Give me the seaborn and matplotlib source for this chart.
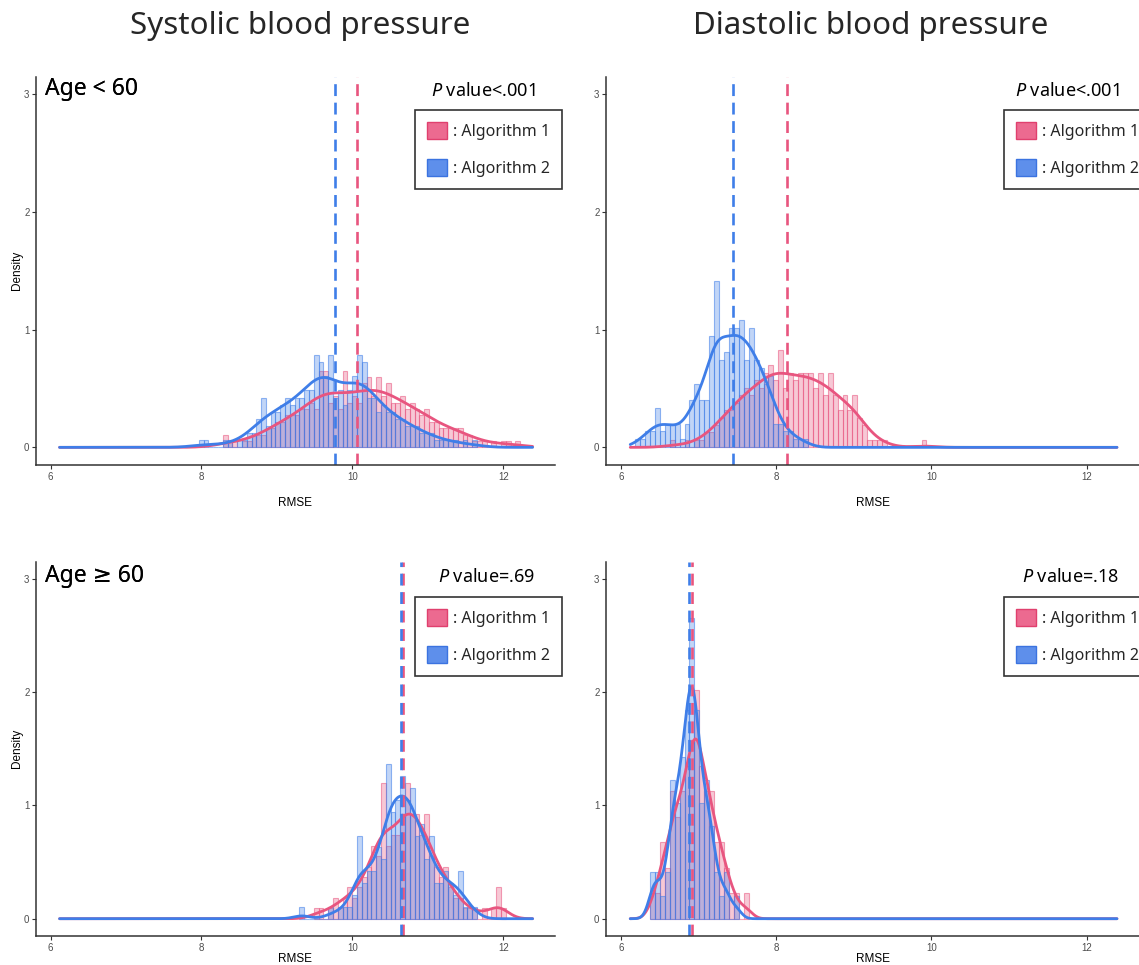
import numpy as np
import matplotlib
matplotlib.use('Agg')
import matplotlib.pyplot as plt
import seaborn as sns
from matplotlib.colors import to_rgba
from matplotlib.patches import Patch

sns.set_theme(style='white')
plt.rcParams['font.family'] = ['Noto Sans', 'DejaVu Sans']
plt.rcParams['mathtext.fontset'] = 'custom'
plt.rcParams['mathtext.it'] = 'Noto Sans:italic'
plt.rcParams['mathtext.rm'] = 'Noto Sans'

# shared histogram grid (RMSE)
bin_left = 6.12
bin_width = 0.0636
rmse_range = (6.12, 12.39)

# systolic, age < 60  (first bin index, counts per bin)
sys_young_alg1_start = 34
sys_young_alg1 = [2, 1, 1, 0, 1, 1, 2, 2, 2, 3, 3, 4, 4, 5, 5, 5, 6, 6, 7, 6, 12, 12, 7, 8, 6, 12, 7, 8, 7, 10,
                  11, 8, 11, 8, 10, 7, 7, 8, 6, 7, 6, 5, 6, 4, 4, 3, 3, 3, 3, 3, 2, 2, 1, 1, 1, 0, 1, 0, 1, 1, 0, 1]
sys_young_alg2_start = 29
sys_young_alg2 = [1, 1, 0, 0, 0, 1, 1, 0, 1, 1, 2, 2, 4, 7, 3, 5, 5, 6, 7, 6, 7, 7, 8, 8, 13, 12, 10, 13, 7, 8,
                  6, 8, 10, 13, 12, 7, 7, 5, 6, 5, 5, 4, 4, 3, 3, 3, 2, 2, 2, 1, 1, 1, 1, 1, 0, 1, 0, 1]

# diastolic, age < 60
dia_young_alg1_start = 8
dia_young_alg1 = [1, 0, 0, 1, 0, 1, 1, 2, 2, 3, 4, 5, 5, 6, 7, 8, 7, 9, 8, 10, 11, 9, 13, 8, 10, 9, 10, 10, 10, 8,
                  10, 7, 10, 7, 5, 7, 5, 7, 4, 3, 1, 1, 1, 1, 0, 0, 0, 0, 0, 0, 0, 1]
dia_young_alg2_start = 1
dia_young_alg2 = [1, 1, 2, 2, 5, 2, 3, 3, 3, 1, 3, 6, 8, 6, 6, 14, 21, 11, 12, 15, 15, 16, 11, 15, 11, 10, 8, 9,
                  3, 3, 2, 2, 1, 1, 1]

# systolic, age >= 60
sys_old_alg1_start = 53
sys_old_alg1 = [1, 1, 0, 1, 2, 1, 2, 3, 2, 3, 4, 5, 7, 6, 13, 7, 8, 8, 10, 13, 10, 10, 8, 10, 6, 5, 4, 5, 3, 2,
                2, 1, 1, 1, 0, 1, 0, 1, 3, 1]
sys_old_alg2_start = 50
sys_old_alg2 = [1, 0, 0, 0, 0, 0, 1, 0, 1, 1, 1, 2, 7, 3, 4, 4, 6, 5, 13, 9, 10, 12, 10, 11, 7, 8, 5, 7, 3, 3,
                4, 3, 2, 4, 1, 1, 1]

# diastolic, age >= 60
dia_old_alg1_start = 4
dia_old_alg1 = [1, 1, 3, 2, 5, 4, 5, 6, 7, 9, 6, 5, 5, 3, 3, 2, 1, 1, 0, 1]
dia_old_alg2_start = 4
dia_old_alg2 = [2, 2, 1, 2, 6, 5, 7, 9, 13, 9, 5, 6, 4, 2, 1, 2, 0, 1]

# mean RMSE per panel (dashed lines)
alg1_means = [10.06, 8.14, 10.67, 6.92]
alg2_means = [9.77, 7.44, 10.65, 6.88]

age_labels = ['Age < 60', 'Age < 60', 'Age \u2265 60', 'Age \u2265 60']
p_labels = [r'$\mathit{P}$ value<.001', r'$\mathit{P}$ value<.001',
            r'$\mathit{P}$ value=.69', r'$\mathit{P}$ value=.18']
col_titles = ['Systolic blood pressure', 'Diastolic blood pressure']
alg_names = [': Algorithm 1', ': Algorithm 2']

pink = '#E8557F'
blue = '#3F7EE8'

panels = [
    (sys_young_alg1_start, sys_young_alg1, sys_young_alg2_start, sys_young_alg2),
    (dia_young_alg1_start, dia_young_alg1, dia_young_alg2_start, dia_young_alg2),
    (sys_old_alg1_start, sys_old_alg1, sys_old_alg2_start, sys_old_alg2),
    (dia_old_alg1_start, dia_old_alg1, dia_old_alg2_start, dia_old_alg2),
]
kde_bw_adjust = [0.85, 0.85, 0.75, 0.75]

W, H = 1139, 965
# axes rectangles in pixels: left, top, right, bottom
rects = [(36.4, 76.7, 554.5, 465), (606.4, 76.7, 1139.5, 465),
         (36.4, 561.7, 554.5, 935.7), (606.4, 561.7, 1139.5, 935.7)]
legend_anchor = [(415, 110), (1004, 110), (415, 597), (1004, 597)]


def bins_to_values(start, counts):
    idx = start + np.arange(len(counts))
    centers = bin_left + bin_width * (idx + 0.5)
    edges = bin_left + bin_width * np.append(idx, idx[-1] + 1)
    return np.repeat(centers, counts), edges


fig = plt.figure(figsize=(W / 100, H / 100), dpi=100)

for i, (s1, c1, s2, c2) in enumerate(panels):
    l, t, r, b = rects[i]
    ax = fig.add_axes([l / W, 1 - b / H, (r - l) / W, (b - t) / H])

    series = [(s1, c1, pink), (s2, c2, blue)]
    for start, counts, color in series:
        values, edges = bins_to_values(start, counts)
        n0 = len(ax.patches)
        sns.histplot(x=values, bins=edges, stat='density', color=color, ax=ax)
        for p in ax.patches[n0:]:
            p.set_alpha(None)
            p.set_facecolor(to_rgba(color, 0.32))
            p.set_edgecolor(to_rgba(color, 0.55))
            p.set_linewidth(0.8)
    for start, counts, color in series:
        values, _ = bins_to_values(start, counts)
        sns.kdeplot(x=values, bw_adjust=kde_bw_adjust[i], cut=400, clip=rmse_range, gridsize=800,
                    color=color, linewidth=2.0, ax=ax)

    ax.axvline(alg1_means[i], color=pink, lw=1.9, ls=(0, (4.5, 2.5)))
    ax.axvline(alg2_means[i], color=blue, lw=1.9, ls=(0, (4.5, 2.5)))

    ax.set_xlim(5.813, 12.68)
    ax.set_ylim(-0.15, 3.15)
    ax.set_xticks([6, 8, 10, 12])
    ax.set_yticks([0, 1, 2, 3])
    for side in ['top', 'right']:
        ax.spines[side].set_visible(False)
    for side in ['left', 'bottom']:
        ax.spines[side].set_color('#333333')
        ax.spines[side].set_linewidth(1.1)
    ax.tick_params(bottom=True, left=True, length=3, width=0.8, color='#333333',
                   labelsize=7, labelcolor='#4D4D4D', pad=2)
    for lab in ax.get_xticklabels() + ax.get_yticklabels():
        lab.set_family('Liberation Sans')

    ax.set_xlabel('RMSE', fontsize=8.5, family='Liberation Sans', color='black',
                  labelpad=11 if i < 2 else 0)
    if i % 2 == 0:
        ax.set_ylabel('Density', fontsize=8.5, family='Liberation Sans', color='black', labelpad=1)
    else:
        ax.set_ylabel('')

    top_y = 1 - (89 - t) / (b - t) if i < 2 else 1 - (576 - t) / (b - t)
    ax.text((45 - l) / (r - l), top_y, age_labels[i], transform=ax.transAxes,
            fontsize=16.5, ha='left', va='center', color='black')
    ax.text((535 + (584 if i % 2 else 0) - l) / (r - l), top_y - 0.004, p_labels[i],
            transform=ax.transAxes, fontsize=13, ha='right', va='center', color='black')

    handles = [Patch(facecolor='#EC6A90', edgecolor='#E0406E', lw=1),
               Patch(facecolor='#5E8FEB', edgecolor='#3B73E0', lw=1)]
    lx, ly = legend_anchor[i]
    leg = ax.legend(handles, alg_names, loc='upper left',
                    bbox_to_anchor=((lx - l) / (r - l), (b - ly) / (b - t)),
                    borderaxespad=0, fontsize=11.5, handlelength=1.25, handleheight=1.25,
                    handletextpad=0.35, labelspacing=1.2, borderpad=0.75,
                    frameon=True, fancybox=False, framealpha=1)
    leg.get_frame().set_edgecolor('#333333')
    leg.get_frame().set_linewidth(1.2)

for j, title in enumerate(col_titles):
    fig.text((300 + 571 * j) / W, 1 - 26 / H, title, ha='center', va='center', fontsize=22.5)

fig.savefig('out.png', dpi=100)
